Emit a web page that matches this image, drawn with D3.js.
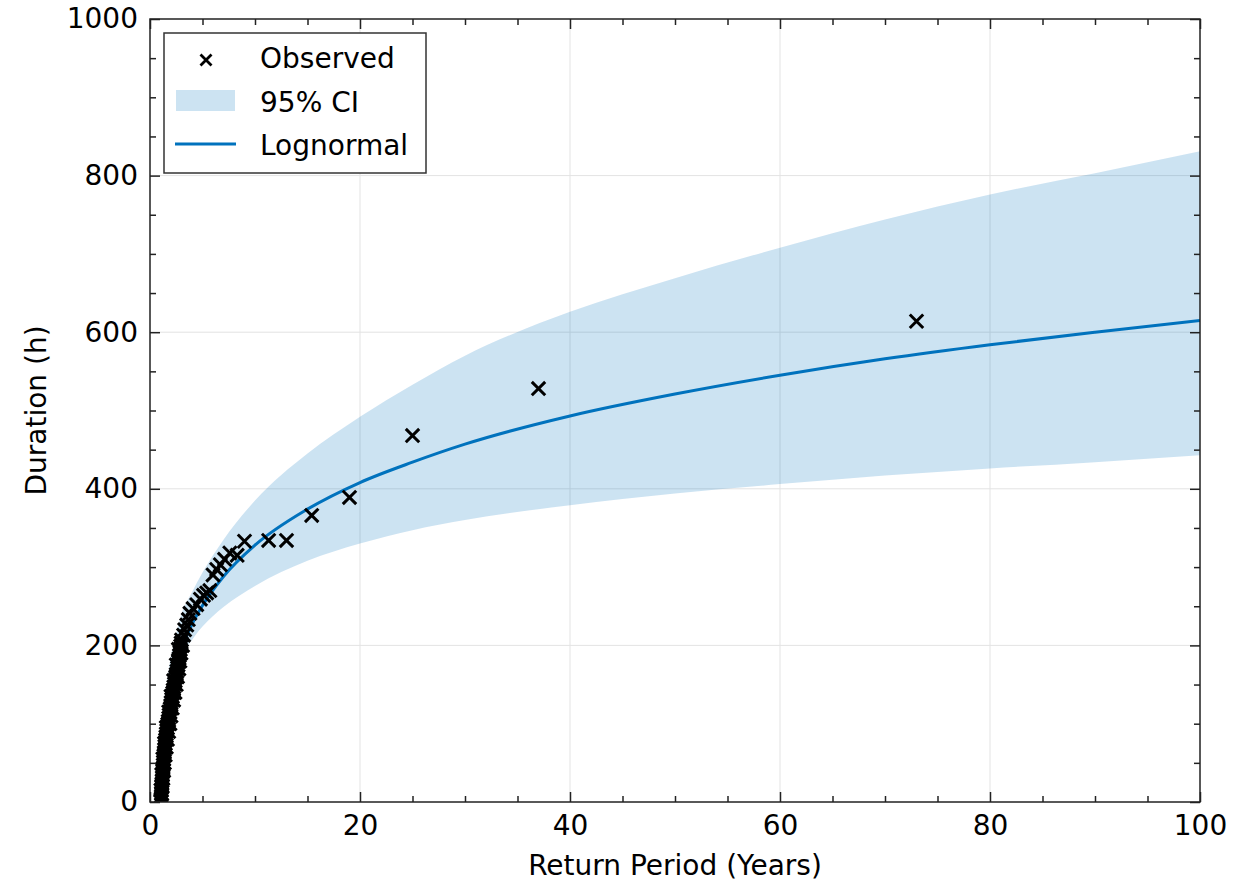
<!DOCTYPE html>
<html>
<head>
<meta charset="utf-8">
<script src="https://cdn.jsdelivr.net/npm/d3@7"></script>
<style>
  body { margin: 0; background: #fff; }
  text { font-family: "DejaVu Sans", sans-serif; }
</style>
</head>
<body>
<div id="chart"></div>
<script>
// observed events (return period in years, duration in hours)
const obsPeriod = [73.0, 37.0, 25.0, 19.0, 15.4, 13.0, 11.3, 9.0, 8.3, 7.6, 7.1, 6.7, 6.35, 6.0,
  5.7, 5.4, 5.1, 4.8, 4.45, 4.1, 3.8, 3.65, 3.5, 3.3, 3.2, 3.0,
  2.96, 2.92, 2.88, 2.84, 2.80, 2.76, 2.72, 2.67, 2.62, 2.56, 2.50, 2.44, 2.38, 2.33, 2.27,
  2.21, 2.16, 2.11, 2.06, 2.01, 1.97, 1.92, 1.87, 1.82, 1.78, 1.73, 1.68, 1.63, 1.59, 1.55,
  1.51, 1.48, 1.44, 1.41, 1.38, 1.35, 1.32, 1.30, 1.27, 1.26, 1.24, 1.21, 1.19, 1.17, 1.15,
  1.13, 1.12, 1.10, 1.08, 1.07, 1.05, 1.04, 1.03,
  3.1, 2.95, 2.85, 2.75, 2.62, 2.5, 2.38, 2.25, 2.12, 2.0, 1.9, 1.78, 1.66, 1.55, 1.45, 1.37,
  1.3, 1.23, 1.17, 1.12,
  2.7, 2.5, 2.25, 2.0, 1.78, 1.55, 1.38, 1.22, 1.12, 1.04]
const obsDuration = [614, 528, 468, 389, 366, 334, 334, 333, 315, 318, 310, 303, 297, 290,
  270, 267, 264, 259, 252, 247, 241, 233, 226, 220, 213, 207,
  203, 199, 195, 191, 187, 183, 179, 175, 171, 167, 163, 159, 155, 151, 147,
  143, 139, 135, 131, 127, 123, 119, 115, 111, 107, 103, 99, 95, 91, 87,
  83, 79, 75, 71, 67, 63, 59, 55, 51, 47, 43, 39, 35, 31, 27,
  23, 19, 15, 11, 7, 4, 2, 0.5,
  200, 190, 180, 170, 160, 150, 140, 130, 120, 110, 100, 90, 80, 70, 60, 50,
  40, 30, 20, 10,
  195, 175, 155, 135, 115, 95, 75, 55, 35, 15]

// fitted lognormal and 95% confidence band
const fitPeriod = [1.01, 1.05, 1.1, 1.2, 1.5, 2, 2.5, 3, 4, 5, 7, 10, 15, 20, 25, 30, 40, 50, 60, 70, 80, 90, 100]
const fitDuration = [37, 56, 68, 85, 117, 151, 176, 196, 227, 251, 288, 328, 374, 408, 434, 457, 493, 521, 545, 566, 584, 600, 615]
const ciLower = [33, 50, 61, 77, 106, 140, 165, 186, 207, 224, 249, 276, 308, 330, 347, 360, 379, 394, 406, 417, 426, 434, 443]
const ciUpper = [42, 63, 78, 100, 140, 186, 215, 240, 268, 293, 335, 385, 445, 492, 533, 570, 626, 669, 708, 744, 776, 803, 831]

const xTicks = [0, 20, 40, 60, 80, 100]
const yTicks = [0, 200, 400, 600, 800, 1000]

const chart_width = 1239, chart_height = 882
const m = {left: 150, right: 1200, top: 19, bottom: 802}
const blue = '#0072BD'

const svg = d3.select('#chart').append('svg')
  .attr('width', chart_width)
  .attr('height', chart_height)

svg.append('clipPath').attr('id', 'plot-clip')
  .append('rect')
  .attr('x', m.left).attr('y', m.top)
  .attr('width', m.right - m.left).attr('height', m.bottom - m.top)

const x = d3.scaleLinear().domain([0, 100]).range([m.left, m.right])
const y = d3.scaleLinear().domain([0, 1000]).range([m.bottom, m.top])

// grid
const grid = svg.append('g')
grid.selectAll('.gx').data(xTicks.slice(1, -1)).enter().append('line')
  .attr('x1', d => x(d)).attr('x2', d => x(d))
  .attr('y1', m.top).attr('y2', m.bottom)
  .attr('stroke', '#e3e3e3').attr('stroke-width', 1)
grid.selectAll('.gy').data(yTicks.slice(1, -1)).enter().append('line')
  .attr('x1', m.left).attr('x2', m.right)
  .attr('y1', d => y(d)).attr('y2', d => y(d))
  .attr('stroke', '#e3e3e3').attr('stroke-width', 1)

const fitRows = fitPeriod.map((t, i) => ({t: t, v: fitDuration[i], lo: ciLower[i], hi: ciUpper[i]}))

const plot = svg.append('g').attr('clip-path', 'url(#plot-clip)')

// confidence band
plot.append('path')
  .datum(fitRows)
  .attr('d', d3.area()
    .x(d => x(d.t))
    .y0(d => y(d.lo))
    .y1(d => y(d.hi))
    .curve(d3.curveMonotoneX))
  .attr('fill', blue)
  .attr('fill-opacity', 0.2)

// fitted line
plot.append('path')
  .datum(fitRows)
  .attr('d', d3.line()
    .x(d => x(d.t))
    .y(d => y(d.v))
    .curve(d3.curveMonotoneX))
  .attr('fill', 'none')
  .attr('stroke', blue)
  .attr('stroke-width', 3)

// observed markers
const cross = s => `M${-s},${-s}L${s},${s}M${-s},${s}L${s},${-s}`
plot.append('g').selectAll('path')
  .data(obsPeriod.map((t, i) => [t, obsDuration[i]]))
  .enter().append('path')
  .attr('transform', d => `translate(${x(d[0])},${y(d[1])})`)
  .attr('d', cross(6.7))
  .attr('stroke', '#000')
  .attr('stroke-width', 3)
  .attr('fill', 'none')

// axes, ticks pointing inward on all sides
function addAxis(axis, tx, ty, labels) {
  const g = svg.append('g').attr('transform', `translate(${tx},${ty})`).call(axis)
  g.select('.domain').remove()
  g.selectAll('.tick line').attr('stroke', '#222').attr('stroke-width', 1.5)
  if (labels) {
    g.selectAll('.tick text').attr('font-size', 28).attr('fill', '#000')
      .attr('font-family', '"DejaVu Sans", sans-serif')
  } else {
    g.selectAll('.tick text').remove()
  }
}
const minorX = d3.range(0, 101, 5).filter(d => d % 20 !== 0)
const minorY = d3.range(0, 1001, 50).filter(d => d % 200 !== 0)
const fmt = d3.format('d')

addAxis(d3.axisBottom(x).tickValues(xTicks).tickFormat(fmt).tickSize(-10).tickPadding(13), 0, m.bottom, true)
addAxis(d3.axisBottom(x).tickValues(minorX).tickSize(-6), 0, m.bottom, false)
addAxis(d3.axisTop(x).tickValues(xTicks).tickSize(-10), 0, m.top, false)
addAxis(d3.axisTop(x).tickValues(minorX).tickSize(-6), 0, m.top, false)
addAxis(d3.axisLeft(y).tickValues(yTicks).tickFormat(fmt).tickSize(-10).tickPadding(12), m.left, 0, true)
addAxis(d3.axisLeft(y).tickValues(minorY).tickSize(-6), m.left, 0, false)
addAxis(d3.axisRight(y).tickValues(yTicks).tickSize(-10), m.right, 0, false)
addAxis(d3.axisRight(y).tickValues(minorY).tickSize(-6), m.right, 0, false)

svg.append('rect')
  .attr('x', m.left).attr('y', m.top)
  .attr('width', m.right - m.left).attr('height', m.bottom - m.top)
  .attr('fill', 'none').attr('stroke', '#222').attr('stroke-width', 1.5)

// axis titles
svg.append('text')
  .attr('x', (m.left + m.right) / 2).attr('y', 875)
  .attr('text-anchor', 'middle').attr('font-size', 28)
  .text('Return Period (Years)')
svg.append('text')
  .attr('transform', `translate(46,${(m.top + m.bottom) / 2}) rotate(-90)`)
  .attr('text-anchor', 'middle').attr('font-size', 28)
  .text('Duration (h)')

// legend
const lg = svg.append('g')
lg.append('rect')
  .attr('x', 164).attr('y', 33).attr('width', 262).attr('height', 140)
  .attr('fill', '#fff').attr('stroke', '#333').attr('stroke-width', 1.5)
lg.append('path')
  .attr('transform', 'translate(206,60)')
  .attr('d', cross(5.5))
  .attr('stroke', '#000').attr('stroke-width', 2.8)
lg.append('rect')
  .attr('x', 176).attr('y', 90).attr('width', 59).attr('height', 21)
  .attr('fill', blue).attr('fill-opacity', 0.2)
lg.append('line')
  .attr('x1', 175).attr('x2', 236).attr('y1', 144).attr('y2', 144)
  .attr('stroke', blue).attr('stroke-width', 3)
const legendNames = ['Observed', '95% CI', 'Lognormal']
lg.selectAll('text.lab').data(legendNames).enter().append('text')
  .attr('x', 260)
  .attr('y', (d, i) => 68 + i * 43.5)
  .attr('font-size', 28)
  .text(d => d)
</script>
</body>
</html>
